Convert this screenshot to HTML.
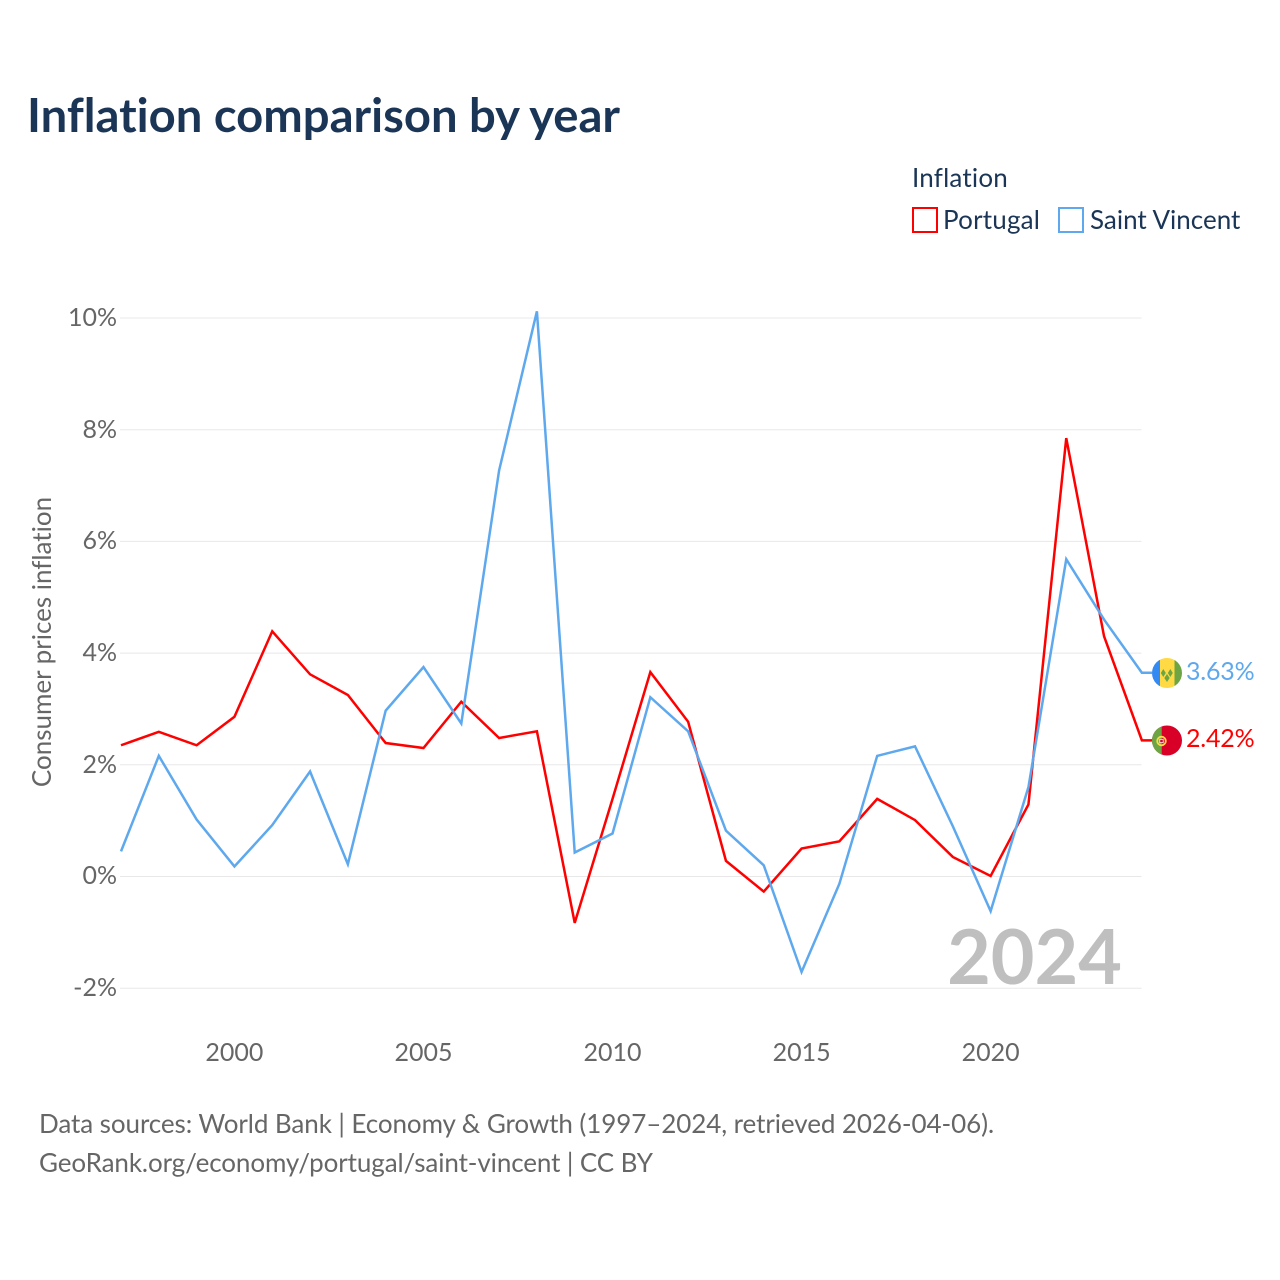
<!DOCTYPE html>
<html lang="en">
<head>
<meta charset="utf-8">
<title>Inflation comparison by year</title>
<style>
html,body{margin:0;padding:0;background:#fff;width:1280px;height:1280px;overflow:hidden}
#stage{position:relative;width:1280px;height:1280px;overflow:hidden}
svg{display:block;position:absolute;left:0;top:0}
.t{position:absolute;white-space:nowrap;line-height:1;font-family:"Lato","Carlito","Liberation Sans",sans-serif;font-variant-ligatures:none;font-feature-settings:"liga" 0,"clig" 0}
</style>
</head>
<body>
<div id="stage">
<svg id="chart" xmlns="http://www.w3.org/2000/svg" width="1280" height="1280" viewBox="0 0 1280 1280">
  <rect width="1280" height="1280" fill="#fff"/>
  <rect x="913" y="208" width="24" height="24" fill="#fff" stroke="#ff0000" stroke-width="2"/>
  <rect x="1059" y="208" width="24" height="24" fill="#fff" stroke="#5ea8ee" stroke-width="2"/>
  <g id="grid"></g>
  <g id="series"></g>
  <g id="flags">
    <defs>
      <clipPath id="clip-sv"><circle cx="1167" cy="673" r="15"/></clipPath>
      <clipPath id="clip-pt"><circle cx="1167" cy="740.500" r="15"/></clipPath>
    </defs>
    <g id="flag-sv" clip-path="url(#clip-sv)">
      <rect x="1152" y="658" width="8" height="30" fill="#338af3"/>
      <rect x="1160" y="658" width="14.500" height="30" fill="#ffda44"/>
      <rect x="1174.500" y="658" width="8" height="30" fill="#6da544"/>
      <path d="M1163.300 669l2.500 4-2.500 4-2.500-4zM1170.300 669l2.500 4-2.500 4-2.500-4zM1167 674l2.700 4-2.700 4-2.700-4z" fill="#6da544"/>
    </g>
    <g id="flag-pt" clip-path="url(#clip-pt)">
      <rect x="1152" y="725" width="30" height="31" fill="#d80027"/>
      <rect x="1152" y="725" width="9.700" height="31" fill="#6da544"/>
      <circle cx="1161.500" cy="741" r="4.300" fill="none" stroke="#ffda44" stroke-width="1.800"/>
      <rect x="1159.800" y="739.300" width="3.400" height="3.400" fill="#d80027" stroke="#fff" stroke-width="0.800"/>
    </g>
  </g>
</svg>

<div class="t" style="left:27px;top:calc(133px - .887 * 47.2px);font-size:47.2px;font-weight:700;color:#1a3555">Inflation comparison by year</div>
<div class="t" style="left:912px;top:calc(187px - .887 * 26px);font-size:26px;letter-spacing:.2px;color:#1a3555">Inflation</div>
<div class="t" style="left:943px;top:calc(229px - .887 * 26px);font-size:26px;letter-spacing:.2px;color:#1a3555">Portugal</div>
<div class="t" style="left:1090px;top:calc(229px - .887 * 26px);font-size:26px;color:#1a3555">Saint Vincent</div>
<div class="t" style="left:50px;top:642px;font-size:26px;color:#666;transform-origin:0 0;transform:rotate(-90deg) translate(-50%,-84%)">Consumer prices inflation</div>
<div class="t" style="right:158px;top:calc(986px - .887 * 75.4px);font-size:75.4px;font-weight:700;color:#bfbfbf">2024</div>
<div class="t" id="label-sv" style="left:1186px;font-size:25px;letter-spacing:-.2px;color:#5ea8ee"></div>
<div class="t" id="label-pt" style="left:1186px;font-size:25px;letter-spacing:-.2px;color:#ff0000"></div>
<div class="t" style="left:39px;top:calc(1133px - .887 * 26px);font-size:26px;letter-spacing:-.08px;color:#666">Data sources: World Bank | Economy &amp; Growth (1997–2024, retrieved 2026-04-06).</div>
<div class="t" style="left:39px;top:calc(1172px - .887 * 26px);font-size:26px;letter-spacing:-.1px;color:#666">GeoRank.org/economy/portugal/saint-vincent | CC BY</div>
<div id="y-ticks"></div>
<div id="x-ticks"></div>
</div>
<script>
const years = [1997,1998,1999,2000,2001,2002,2003,2004,2005,2006,2007,2008,2009,2010,2011,2012,2013,2014,2015,2016,2017,2018,2019,2020,2021,2022,2023,2024];
const portugal = [2.35,2.59,2.35,2.86,4.39,3.62,3.25,2.39,2.30,3.13,2.48,2.60,-0.83,1.39,3.66,2.77,0.28,-0.27,0.50,0.63,1.39,1.01,0.35,0.01,1.29,7.85,4.30,2.42];
const saintVincent = [0.45,2.16,1.02,0.18,0.92,1.88,0.22,2.97,3.75,2.74,7.27,10.12,0.43,0.77,3.21,2.60,0.82,0.20,-1.71,-0.13,2.16,2.33,0.90,-0.62,1.60,5.68,4.60,3.63];
const yTickValues = [-2,0,2,4,6,8,10];
const xTickValues = [2000,2005,2010,2015,2020];

const NS = 'http://www.w3.org/2000/svg';
const BASE = 0.887;
function xScale(year){ return 121 + (year - 1997) * 37.81; }
function yScale(v){ return 876.5 - v * 55.85; }

const grid = document.getElementById('grid');
const yTicks = document.getElementById('y-ticks');
const xTicks = document.getElementById('x-ticks');
const seriesGroup = document.getElementById('series');

yTickValues.forEach(function(v){
  const line = document.createElementNS(NS,'line');
  
  
  line.setAttribute('x1', 120);
  line.setAttribute('x2', 1141.5);
  line.setAttribute('y1', yScale(v));
  line.setAttribute('y2', yScale(v));
  line.setAttribute('stroke', '#e8e8e8');
  line.setAttribute('stroke-width', 1);
  grid.appendChild(line);
  const t = document.createElement('div');
  t.className = 't';
  
  
  t.style.right = (1280 - 117) + 'px';
  t.style.top = (yScale(v) + 9 - BASE * 25) + 'px';
  t.style.fontSize = '25px';
  t.style.color = '#666';
  t.textContent = v + '%';
  yTicks.appendChild(t);
});

xTickValues.forEach(function(y){
  const t = document.createElement('div');
  t.className = 't';
  
  
  t.style.left = (xScale(y) - 60) + 'px';
  t.style.width = '120px';
  t.style.textAlign = 'center';
  t.style.top = (1062 - BASE * 25) + 'px';
  t.style.fontSize = '25px';
  t.style.color = '#666';
  t.textContent = y;
  xTicks.appendChild(t);
});

function seriesPoints(values){
  const n = values.length - 1;
  const pts = values.map(function(v,i){
    const y = i === n ? yScale(v) - 1 : yScale(v);
    return xScale(years[i]).toFixed(2) + ',' + y.toFixed(2);
  });
  pts.push('1152,' + (yScale(values[n]) - 1).toFixed(2));
  return pts.join(' ');
}

const linePt = document.createElementNS(NS,'polyline');


linePt.setAttribute('points', seriesPoints(portugal));
linePt.setAttribute('fill', 'none');
linePt.setAttribute('stroke', '#ff0000');
linePt.setAttribute('stroke-width', 2.5);
seriesGroup.appendChild(linePt);

const lineSv = document.createElementNS(NS,'polyline');


lineSv.setAttribute('points', seriesPoints(saintVincent));
lineSv.setAttribute('fill', 'none');
lineSv.setAttribute('stroke', '#5ea8ee');
lineSv.setAttribute('stroke-width', 2.5);
seriesGroup.appendChild(lineSv);

const lastSv = saintVincent[saintVincent.length-1];
const lastPt = portugal[portugal.length-1];
const labelSv = document.getElementById('label-sv');
const labelPt = document.getElementById('label-pt');
labelSv.textContent = lastSv.toFixed(2) + '%';
labelPt.textContent = lastPt.toFixed(2) + '%';
labelSv.style.top = (yScale(lastSv) + 7 - BASE * 25) + 'px';
labelPt.style.top = (yScale(lastPt) + 7 - BASE * 25) + 'px';
</script>
</body>
</html>
